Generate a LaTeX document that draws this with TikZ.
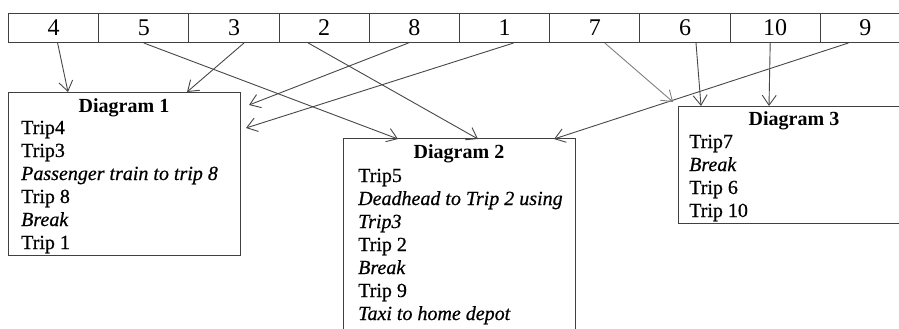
\documentclass[tikz,border=0pt]{standalone}
\usepackage{fontspec}
\setmainfont{Liberation Serif}[
  UprightFeatures={FakeBold=0.6},
  ItalicFeatures={FakeBold=0.6}]
\newfontfamily\numfont{Liberation Serif}
\usetikzlibrary{arrows.meta}

\tikzset{
  ink/.style={draw=black!75, line width=1pt},
  cell/.style={ink, minimum width=90.2pt, minimum height=29pt, inner sep=0pt,
               anchor=north west, font=\numfont\fontsize{24}{24}\selectfont},
  diagbox/.style={ink, anchor=north west, inner sep=0pt},
  title/.style={anchor=base, inner sep=0pt, font=\fontsize{20}{20}\selectfont\bfseries},
  entry/.style={anchor=base west, inner sep=0pt, font=\fontsize{20}{20}\selectfont},
  link/.style={draw=black!72, line width=0.9pt,
               -{Straight Barb[length=10pt,width=14pt,line width=0.9pt]}},
}

\begin{document}
\begin{tikzpicture}[x=1pt, y=-1pt]
  \clip (0,0) rectangle (899,329);
  \fill[white] (0,0) rectangle (899,329);

  % row of trip numbers
  \foreach \n [count=\k from 0] in {4,5,3,2,8,1,7,6,10,9}
    \node[cell] (c\n) at (8+90.2*\k, 13) {\n};

  % duty diagrams
  \node[diagbox, minimum width=232pt, minimum height=163pt] (d1) at (8,92) {};
  \node[diagbox, minimum width=232pt, minimum height=210pt] (d2) at (343,138) {};
  \node[diagbox, minimum width=232pt, minimum height=117pt] (d3) at (678,106) {};

  \node[title] (t1) at (124,112) {Diagram 1};
  \foreach \t [count=\i] in {Trip4, Trip3, {\itshape Passenger train to trip 8},
                              Trip 8, {\itshape Break}, Trip 1}
    \node[entry] (d1l\i) at (21, 134+23*\i-23) {\t};

  \node[title] (t2) at (459,158) {Diagram 2};
  \foreach \t [count=\i] in {Trip5, {\itshape Deadhead to Trip 2 using}, {\itshape Trip3},
                              Trip 2, {\itshape Break}, Trip 9, {\itshape Taxi to home depot}}
    \node[entry] (d2l\i) at (358, 182+23*\i-23) {\t};

  \node[title] (t3) at (794,125) {Diagram 3};
  \foreach \t [count=\i] in {Trip7, {\itshape Break}, Trip 6, Trip 10}
    \node[entry] (d3l\i) at (689, 148+23*\i-23) {\t};

  % assignment of trips to diagrams
  \draw[link] ([xshift=4pt]c4.south)   -- ([xshift=60pt]d1.north west);
  \draw[link] ([xshift=10pt]c3.south)  -- ([xshift=179pt]d1.north west);
  \draw[link] ([xshift=-6pt]c8.south)  -- ([xshift=8pt,yshift=-13pt]d1.north east);
  \draw[link] ([xshift=9pt]c1.south)   -- ([xshift=5pt,yshift=-36pt]d1.north east);
  \draw[link] ([xshift=-0pt]c5.south)  -- ([xshift=55pt,yshift=-1pt]d2.north west);
  \draw[link] ([xshift=-16pt]c2.south) -- ([xshift=135pt,yshift=-1pt]d2.north west);
  \draw[link] ([xshift=-17pt]c9.south) -- ([xshift=-22pt,yshift=-1pt]d2.north east);
  \draw[link, draw=black!50] ([xshift=10pt]c7.south) -- ([xshift=-5pt,yshift=4pt]d3.north west);
  \draw[link] ([xshift=11pt]c6.south)  -- ([xshift=23pt]d3.north west);
  \draw[link] ([xshift=-5pt]c10.south) -- ([xshift=91pt]d3.north west);
\end{tikzpicture}
\end{document}
